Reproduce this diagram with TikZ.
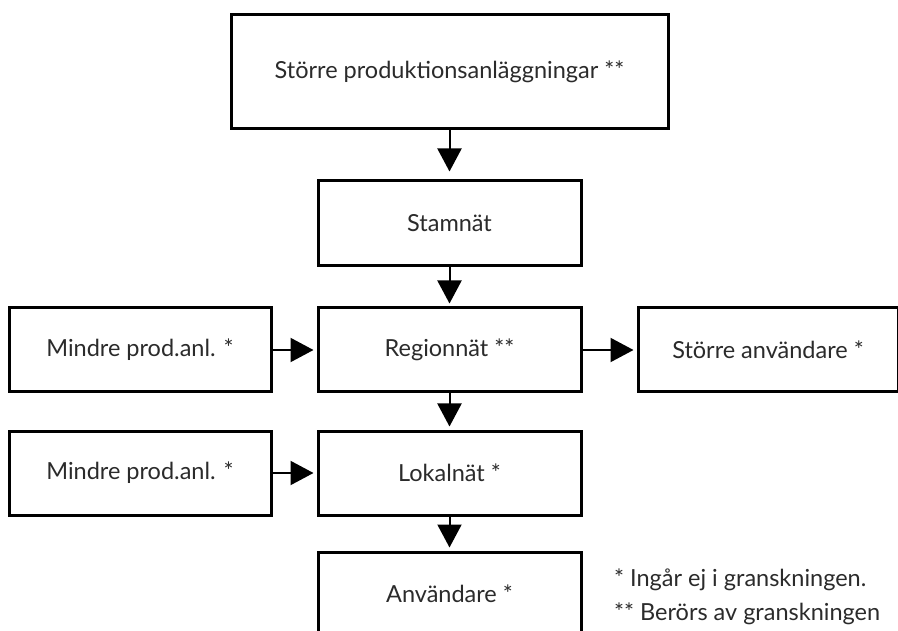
\documentclass[tikz,border=0pt]{standalone}
\usepackage{fontspec}
\setmainfont{Lato}
\usetikzlibrary{arrows.meta}
\definecolor{txt}{HTML}{2B2B2B}
\tikzset{
  box/.style={draw=black, line width=3pt, fill=white, inner sep=0pt, text=txt,
    font=\fontsize{23.5}{28}\selectfont},
  flow/.style={draw=black, line width=2pt, -{Triangle[width=24pt,length=23pt]}, shorten >=3pt},
}
\begin{document}
\begin{tikzpicture}[x=1pt,y=-1pt]
\clip (0,0) rectangle (898,631);
\fill[white] (0,0) rectangle (898,631);
% boxes: corners in pixels (y down)
\node[box, minimum width=437pt, minimum height=114pt] (top) at (449.5,72) {Större produktionsanläggningar **};
\node[box, minimum width=263pt, minimum height=85pt] (stam) at (449.5,223.5) {Stamnät};
\node[box, minimum width=263pt, minimum height=84pt] (reg) at (449.5,350) {Regionnät **};
\node[box, minimum width=262pt, minimum height=84pt] (min1) at (140,350) {Mindre prod.anl. *};
\node[box, minimum width=260pt, minimum height=84pt] (stor) at (768,350) {Större användare *};
\node[box, minimum width=263pt, minimum height=84pt] (lok) at (449.5,473) {Lokalnät *};
\node[box, minimum width=262pt, minimum height=84pt] (min2) at (140,473) {Mindre prod.anl. *};
\node[box, minimum width=263pt, minimum height=84pt] (anv) at (449.5,594) {Användare *};
% arrows
\draw[flow, shorten >=8pt] (top) -- (stam);
\draw[flow] (stam) -- (reg);
\draw[flow] (reg) -- (lok);
\draw[flow] (lok) -- (anv);
\draw[flow] (min1) -- (reg);
\draw[flow] (reg) -- (stor);
\draw[flow] (min2) -- (lok);
% footnote
\node[anchor=west, text=txt, font=\fontsize{23.5}{34}\selectfont, align=left, inner sep=0pt] (note) at (614,597)
  {* Ingår ej i granskningen.\\** Berörs av granskningen};
\end{tikzpicture}
\end{document}
